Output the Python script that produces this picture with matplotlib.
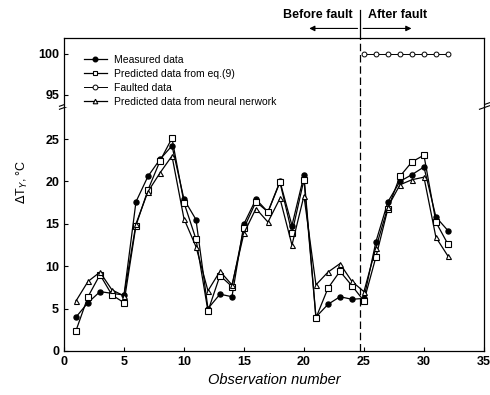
import numpy as np
import matplotlib
matplotlib.use('Agg')
import matplotlib.pyplot as plt

plt.rcParams['font.family'] = ['Liberation Sans', 'DejaVu Sans']

# observation numbers
obs = np.arange(1, 33)

measured = [4.0, 5.7, 7.0, 6.8, 6.6, 17.6, 20.6, 22.6, 24.2, 17.9,
            15.5, 5.0, 6.7, 6.4, 15.0, 17.9, 16.4, 20.0, 14.8, 20.7,
            4.0, 5.5, 6.4, 6.1, 6.2, 12.9, 17.6, 20.0, 20.8, 21.7,
            15.8, 14.2]
pred_eq9 = [2.4, 6.4, 9.0, 6.6, 5.7, 14.8, 19.0, 22.4, 25.1, 17.5,
            13.2, 4.7, 8.9, 7.6, 14.5, 17.6, 16.4, 19.9, 13.9, 20.2,
            3.9, 7.4, 9.4, 7.7, 5.9, 11.1, 16.8, 20.6, 22.3, 23.1,
            15.2, 12.6]
pred_nn = [5.9, 8.2, 9.3, 7.2, 6.5, 15.0, 18.8, 21.0, 23.0, 15.6,
           12.3, 7.1, 9.4, 7.8, 13.9, 16.8, 15.2, 18.0, 12.5, 18.3,
           7.8, 9.3, 10.3, 8.2, 7.0, 12.2, 17.0, 19.6, 20.2, 20.5,
           13.4, 11.2]

fault_obs = np.arange(25, 33)
faulted = [100, 100, 100, 100, 100, 100, 100, 100]

fault_x = 24.7

fig = plt.figure(figsize=(4.9, 3.95), dpi=100)
L, W = 0.1306, 0.857
ax = fig.add_axes([L, 0.1114, W, 0.6176])
axt = fig.add_axes([L, 0.729, W, 0.1748], sharex=ax)

lw = 0.9
ax.plot(obs, measured, '-o', color='k', lw=lw, ms=3.6, mfc='k')
ax.plot(obs, pred_eq9, '-s', color='k', lw=lw, ms=4.0, mfc='white', mew=0.8)
ax.plot(obs, pred_nn, '-^', color='k', lw=lw, ms=3.6, mfc='white', mew=0.8)

h1, = axt.plot([], [], '-o', color='k', lw=lw, ms=3.3, mfc='k')
h2, = axt.plot([], [], '-s', color='k', lw=lw, ms=3.3, mfc='white', mew=0.8)
h3, = axt.plot(fault_obs, faulted, '-o', color='k', lw=0.7, ms=3.5, mfc='white', mew=0.7)
h4, = axt.plot([], [], '-^', color='k', lw=lw, ms=3.3, mfc='white', mew=0.8)

for a in (ax, axt):
    a.axvline(fault_x, color='k', lw=0.9, ls=(0, (6, 3)))
    a.tick_params(direction='in', length=3, labelsize=9, width=0.8)
    for s in a.spines.values():
        s.set_linewidth(0.9)

ax.set_xlim(0, 35)
ax.set_ylim(0, 28.77)
ax.set_xticks(np.arange(0, 36, 5))
ax.set_yticks(np.arange(0, 26, 5))
ax.spines['top'].set_visible(False)
axt.set_ylim(93.5, 101.95)
axt.set_yticks([95, 100])
axt.spines['bottom'].set_visible(False)
axt.tick_params(axis='x', bottom=False, labelbottom=False)
for lab in ax.get_xticklabels() + ax.get_yticklabels() + axt.get_yticklabels():
    lab.set_fontweight('bold')

# break marks
kw = dict(marker=[(-1, -0.35), (1, 0.35)], markersize=8, linestyle='none',
          color='k', mec='k', mew=0.8, clip_on=False)
ax.plot([0, 1], [1, 1], transform=ax.transAxes, **kw)
ax.plot([0, 1], [1.012, 1.012], transform=ax.transAxes, **kw)

ax.set_xlabel('Observation number', fontsize=10.5, style='italic', labelpad=4)
fig.text(0.045, 0.54, r'$\Delta$T$_Y$, °C', rotation=90, fontsize=9,
         ha='center', va='center')

axt.legend([h1, h2, h3, h4],
           ['Measured data', 'Predicted data from eq.(9)', 'Faulted data',
            'Predicted data from neural nerwork'],
           loc='upper left', bbox_to_anchor=(0.03, 0.86), frameon=False,
           fontsize=7.5, handlelength=2.2, handletextpad=0.7,
           labelspacing=0.38, borderaxespad=0.3)

# before / after fault annotation above the plot
xf = axt.transData.transform((fault_x, 0))[0]
xfig = fig.transFigure.inverted().transform((xf, 0))[0]
fig.add_artist(plt.Line2D([xfig, xfig], [0.9038, 0.975], color='k', lw=0.9,
                          transform=fig.transFigure))
fig.text(xfig - 0.015, 0.963, 'Before fault', ha='right', va='center',
         fontsize=9, fontweight='bold')
fig.text(xfig + 0.015, 0.963, 'After fault', ha='left', va='center',
         fontsize=9, fontweight='bold')
ap = dict(arrowstyle='-|>', color='k', lw=0.8, mutation_scale=8)
fig.add_artist(matplotlib.patches.FancyArrowPatch(
    (xfig, 0.928), (xfig - 0.11, 0.928), transform=fig.transFigure, **ap))
fig.add_artist(matplotlib.patches.FancyArrowPatch(
    (xfig, 0.928), (xfig + 0.11, 0.928), transform=fig.transFigure, **ap))

fig.savefig('out.png', dpi=100)
